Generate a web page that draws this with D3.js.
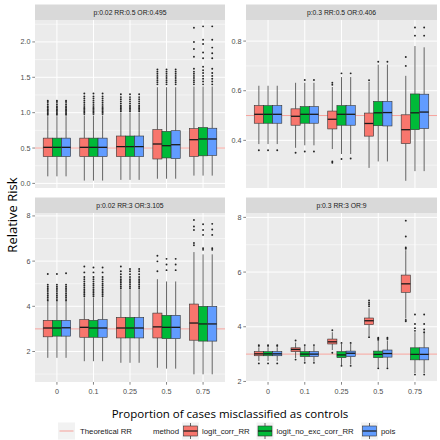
<!DOCTYPE html>
<html><head><meta charset="utf-8">
<script src="https://cdn.jsdelivr.net/npm/d3@7"></script>
<style>body{margin:0;background:#fff}svg{display:block}</style>
</head><body><svg id="c" width="440" height="440"></svg>
<script>
// ---------- data ----------
const categories = ["0", "0.1", "0.25", "0.5", "0.75"];
const methods = ["logit_corr_RR", "logit_no_exc_corr_RR", "pois"];
const panelTitles = ["p:0.02 RR:0.5 OR:0.495", "p:0.3 RR:0.5 OR:0.406", "p:0.02 RR:3 OR:3.105", "p:0.3 RR:3 OR:9"];
const theoreticalRR = [0.5, 0.5, 3, 3];
const xTitle = "Proportion of cases misclassified as controls";
const yTitle = "Relative Risk";
const lineLegendLabel = "Theoretical RR";
const methodLegendTitle = "method";

const p1Ticks = [0, 0.5, 1, 1.5, 2];
const p1TickLabels = ["0.0", "0.5", "1.0", "1.5", "2.0"];
const p2Ticks = [0.4, 0.6, 0.8];
const p2TickLabels = ["0.4", "0.6", "0.8"];
const p3Ticks = [2, 4, 6, 8];
const p3TickLabels = ["2", "4", "6", "8"];
const p4Ticks = [2, 4, 6, 8];
const p4TickLabels = ["2", "4", "6", "8"];

// box stats per category: [lower whisker, q1, median, q3, upper whisker]
const p1_logit_corr_RR = [[0.10,0.38,0.51,0.64,0.95],[0.04,0.38,0.51,0.64,0.96],[0.05,0.38,0.52,0.67,1.00],[0.066,0.345,0.557,0.76,1.36],[0.11,0.382,0.618,0.774,1.37]];
const p1_logit_no_exc_corr_RR = [[0.10,0.38,0.51,0.64,0.95],[0.04,0.38,0.51,0.64,0.96],[0.05,0.38,0.52,0.67,1.00],[0.066,0.36,0.533,0.735,1.36],[0.11,0.39,0.628,0.79,1.37]];
const p1_pois = [[0.10,0.38,0.51,0.64,0.95],[0.04,0.38,0.51,0.64,0.96],[0.05,0.38,0.52,0.67,1.00],[0.066,0.35,0.547,0.745,1.36],[0.11,0.396,0.628,0.78,1.37]];
const p1_logit_corr_RR_out = [[0.97,0.99,1.01,1.03,1.05,1.07,1.09,1.12,1.15,1.17],[0.98,1.0,1.02,1.04,1.06,1.08,1.11,1.14,1.17,1.2,1.23,1.27],[1.02,1.04,1.06,1.08,1.1,1.13,1.16,1.19,1.22,1.26],[1.40,1.43,1.46,1.49,1.52,1.55,1.58,1.61],[1.40,1.43,1.46,1.49,1.52,1.55,1.58,1.62,1.79,1.9,2.0,2.2]];
const p1_logit_no_exc_corr_RR_out = [[0.97,0.99,1.01,1.03,1.05,1.07,1.09,1.12,1.15,1.17],[0.98,1.0,1.02,1.04,1.06,1.08,1.11,1.14,1.17,1.2,1.23,1.27],[1.02,1.04,1.06,1.08,1.1,1.13,1.16,1.19,1.22,1.26],[1.40,1.43,1.46,1.49,1.52,1.55,1.58,1.61],[1.40,1.44,1.48,1.52,1.56,1.60,1.65,1.77,1.85,1.97,2.03,2.22]];
const p1_pois_out = [[0.97,0.99,1.01,1.03,1.05,1.07,1.09,1.12,1.15,1.17],[0.98,1.0,1.02,1.04,1.06,1.08,1.11,1.14,1.17,1.2,1.23,1.27],[1.02,1.04,1.06,1.08,1.1,1.13,1.16,1.19,1.22,1.26],[1.40,1.43,1.46,1.49,1.52,1.55,1.58,1.61],[1.40,1.44,1.48,1.52,1.56,1.62,1.77,1.84,1.92,2.03,2.22]];

const p2_logit_corr_RR = [[0.385,0.469,0.505,0.54,0.62],[0.37,0.461,0.497,0.527,0.632],[0.365,0.446,0.485,0.518,0.615],[0.289,0.417,0.468,0.51,0.635],[0.237,0.387,0.443,0.503,0.66]];
const p2_logit_no_exc_corr_RR = [[0.385,0.469,0.505,0.54,0.62],[0.38,0.469,0.505,0.536,0.632],[0.345,0.461,0.505,0.54,0.655],[0.315,0.459,0.511,0.557,0.705],[0.276,0.443,0.511,0.587,0.78]];
const p2_pois = [[0.385,0.469,0.505,0.54,0.62],[0.38,0.469,0.505,0.536,0.632],[0.345,0.461,0.505,0.54,0.655],[0.315,0.458,0.512,0.557,0.705],[0.276,0.448,0.514,0.586,0.775]];
const p2_logit_corr_RR_out = [[0.36],[0.35],[0.624,0.632,0.315,0.31],[0.642],[0.70,0.736]];
const p2_logit_no_exc_corr_RR_out = [[0.36],[0.643,0.355],[0.67,0.325],[0.717],[0.822,0.855]];
const p2_pois_out = [[0.36],[0.643,0.355],[0.67,0.327],[0.717],[0.822,0.855]];

const p3_logit_corr_RR = [[1.72,2.65,3.04,3.38,4.2],[1.57,2.63,3.07,3.41,4.4],[1.5,2.6,3.04,3.51,4.75],[1.28,2.6,3.09,3.7,5.2],[0.99,2.5,3.26,4.1,6.4]];
const p3_logit_no_exc_corr_RR = [[1.72,2.68,3.04,3.38,4.2],[1.57,2.63,3.04,3.38,4.4],[1.5,2.6,3.04,3.51,4.75],[1.24,2.57,3.07,3.6,5.1],[0.99,2.46,3.22,4.0,6.3]];
const p3_pois = [[1.72,2.68,3.05,3.38,4.2],[1.57,2.63,3.04,3.41,4.4],[1.5,2.6,3.04,3.51,4.75],[1.24,2.57,3.07,3.6,5.1],[0.99,2.46,3.22,4.0,6.3]];
const p3_logit_corr_RR_out = [[4.25,4.32,4.4,4.48,4.56,4.64,4.72,4.8,4.88,4.96,5.43],[4.45,4.52,4.6,4.68,4.76,4.84,4.92,5.0,5.1,5.2,5.3,5.5,5.76],[4.8,4.88,4.96,5.04,5.12,5.2,5.3,5.42,5.55,5.76],[5.55,5.99,6.24],[6.7,6.8,7.38,7.53,7.82]];
const p3_logit_no_exc_corr_RR_out = [[4.25,4.32,4.4,4.48,4.56,4.64,4.72,4.8,4.88,4.96,5.43],[4.45,4.52,4.6,4.68,4.76,4.84,4.92,5.0,5.1,5.2,5.3,5.5,5.72],[4.8,4.88,4.96,5.04,5.12,5.2,5.3,5.42,5.55,5.65],[5.6,5.85,6.1],[6.5,6.57,7.16,7.38,7.63]];
const p3_pois_out = [[4.25,4.32,4.4,4.48,4.56,4.64,4.72,4.8,4.88,4.96,5.46],[4.45,4.52,4.6,4.68,4.76,4.84,4.92,5.0,5.1,5.2,5.3,5.5,5.72],[4.8,4.88,4.96,5.04,5.12,5.2,5.3,5.42,5.55,5.65],[5.6,5.85,6.1],[6.5,6.57,7.16,7.4,7.65]];

const p4_logit_corr_RR = [[2.75,2.94,3.01,3.09,3.25],[2.85,3.09,3.17,3.23,3.42],[3.15,3.37,3.45,3.55,3.8],[3.65,4.08,4.22,4.32,4.68],[4.3,5.26,5.57,5.89,6.8]];
const p4_logit_no_exc_corr_RR = [[2.75,2.94,3.01,3.09,3.25],[2.72,2.91,3.0,3.09,3.3],[2.6,2.87,2.97,3.09,3.38],[2.5,2.87,2.99,3.11,3.48],[2.3,2.79,2.99,3.23,3.8]];
const p4_pois = [[2.75,2.94,3.01,3.09,3.25],[2.72,2.91,3.0,3.09,3.3],[2.62,2.91,3.03,3.11,3.38],[2.5,2.89,3.02,3.15,3.5],[2.3,2.79,2.99,3.23,3.8]];
const p4_logit_corr_RR_out = [[3.3,3.33,2.66],[3.5,2.8],[3.87,3.05],[4.75,4.82,4.88,4.96,3.62],[6.85,6.9,7.3,7.88,4.25,4.2]];
const p4_logit_no_exc_corr_RR_out = [[3.3,3.33,2.66],[3.33,2.68],[3.41,2.57],[3.52,3.56,3.6,2.48],[3.85,3.95,4.1,4.45,2.25]];
const p4_pois_out = [[3.3,3.33,2.66],[3.33,2.68],[3.41,2.57],[3.55,3.6,2.48],[3.8,3.9,4.1,4.45,2.25]];

// ---------- styling / layout ----------
const methodColors = ["#F8766D", "#00BA38", "#619CFF"];
const smallFont = "'Liberation Sans', Arial, sans-serif";
const titleFont = "'Open Sans', 'Noto Sans', sans-serif";
const colX = [[35, 225], [246, 437]];
const rowY = [[20, 188], [213, 382]];
const stripH = 15.5;

const panels = [
  {title: panelTitles[0], rr: theoreticalRR[0], stats: [p1_logit_corr_RR, p1_logit_no_exc_corr_RR, p1_pois], outs: [p1_logit_corr_RR_out, p1_logit_no_exc_corr_RR_out, p1_pois_out], ticks: p1Ticks, labels: p1TickLabels, domain: [-0.065, 2.31], col: 0, row: 0},
  {title: panelTitles[1], rr: theoreticalRR[1], stats: [p2_logit_corr_RR, p2_logit_no_exc_corr_RR, p2_pois], outs: [p2_logit_corr_RR_out, p2_logit_no_exc_corr_RR_out, p2_pois_out], ticks: p2Ticks, labels: p2TickLabels, domain: [0.208, 0.885], col: 1, row: 0},
  {title: panelTitles[2], rr: theoreticalRR[2], stats: [p3_logit_corr_RR, p3_logit_no_exc_corr_RR, p3_pois], outs: [p3_logit_corr_RR_out, p3_logit_no_exc_corr_RR_out, p3_pois_out], ticks: p3Ticks, labels: p3TickLabels, domain: [0.65, 8.13], col: 0, row: 1},
  {title: panelTitles[3], rr: theoreticalRR[3], stats: [p4_logit_corr_RR, p4_logit_no_exc_corr_RR, p4_pois], outs: [p4_logit_corr_RR_out, p4_logit_no_exc_corr_RR_out, p4_pois_out], ticks: p4Ticks, labels: p4TickLabels, domain: [1.98, 8.16], col: 1, row: 1}
];

const svg = d3.select("#c");
svg.append("rect").attr("width", 440).attr("height", 440).attr("fill", "#fff");

panels.forEach(p => {
  const [x0, x1] = colX[p.col];
  const [y0, y1] = rowY[p.row];
  const g = svg.append("g");
  const x = d3.scalePoint().domain(categories).range([x0, x1]).padding(0.6);
  const y = d3.scaleLinear().domain(p.domain).range([y1, y0]);
  const step = x.step();
  const bw = step * 0.25;

  // strip
  g.append("rect").attr("x", x0).attr("y", y0 - stripH).attr("width", x1 - x0).attr("height", stripH).attr("fill", "#D9D9D9");
  g.append("text").attr("x", (x0 + x1) / 2).attr("y", y0 - stripH / 2).attr("dy", "0.35em")
    .attr("text-anchor", "middle").attr("font-family", smallFont).attr("font-size", 6.8).attr("fill", "#1A1A1A").text(p.title);

  // panel bg
  g.append("rect").attr("x", x0).attr("y", y0).attr("width", x1 - x0).attr("height", y1 - y0).attr("fill", "#EBEBEB");

  // minor grid
  const half = (p.ticks[1] - p.ticks[0]) / 2;
  const minors = [p.ticks[0] - half].concat(p.ticks.map(t => t + half)).filter(v => v > p.domain[0] && v < p.domain[1]);
  g.selectAll(".mn").data(minors).enter().append("line")
    .attr("x1", x0).attr("x2", x1).attr("y1", d => y(d)).attr("y2", d => y(d))
    .attr("stroke", "#fff").attr("stroke-width", 0.5);
  g.selectAll(".mj").data(p.ticks).enter().append("line")
    .attr("x1", x0).attr("x2", x1).attr("y1", d => y(d)).attr("y2", d => y(d))
    .attr("stroke", "#fff").attr("stroke-width", 1);
  g.selectAll(".vx").data(categories).enter().append("line")
    .attr("x1", d => x(d)).attr("x2", d => x(d)).attr("y1", y0).attr("y2", y1)
    .attr("stroke", "#fff").attr("stroke-width", 1);

  // theoretical RR line
  g.append("line").attr("x1", x0).attr("x2", x1).attr("y1", y(p.rr)).attr("y2", y(p.rr))
    .attr("stroke", "#F8766D").attr("stroke-opacity", 0.65).attr("stroke-width", 1);

  // boxplots
  methods.forEach((m, j) => {
    categories.forEach((c, i) => {
      const s = p.stats[j][i];
      const cx = x(c) + (j - 1) * bw;
      const bg = g.append("g");
      bg.append("line").attr("x1", cx).attr("x2", cx).attr("y1", y(s[0])).attr("y2", y(s[1]))
        .attr("stroke", "#555").attr("stroke-width", 0.9);
      bg.append("line").attr("x1", cx).attr("x2", cx).attr("y1", y(s[3])).attr("y2", y(s[4]))
        .attr("stroke", "#555").attr("stroke-width", 0.9);
      bg.selectAll("circle").data(p.outs[j][i]).enter().append("circle")
        .attr("cx", cx).attr("cy", d => y(d)).attr("r", 0.95).attr("fill", "#222");
      bg.append("rect").attr("x", cx - bw / 2).attr("width", bw)
        .attr("y", y(s[3])).attr("height", y(s[1]) - y(s[3]))
        .attr("fill", methodColors[j]).attr("stroke", "#333").attr("stroke-width", 0.6);
      bg.append("line").attr("x1", cx - bw / 2).attr("x2", cx + bw / 2).attr("y1", y(s[2])).attr("y2", y(s[2]))
        .attr("stroke", "#1a1a1a").attr("stroke-width", 1.3);
    });
  });

  // y axis
  const ya = g.append("g");
  p.ticks.forEach((t, k) => {
    ya.append("line").attr("x1", x0 - 2.7).attr("x2", x0).attr("y1", y(t)).attr("y2", y(t)).attr("stroke", "#333").attr("stroke-width", 0.6);
    ya.append("text").attr("x", x0 - 4.5).attr("y", y(t)).attr("dy", "0.35em").attr("text-anchor", "end")
      .attr("font-family", smallFont).attr("font-size", 7.2).attr("fill", "#4D4D4D").text(p.labels[k]);
  });
  // x axis on bottom row
  if (p.row === 1) {
    categories.forEach(c => {
      g.append("line").attr("x1", x(c)).attr("x2", x(c)).attr("y1", y1).attr("y2", y1 + 2.7).attr("stroke", "#333").attr("stroke-width", 0.6);
      g.append("text").attr("x", x(c)).attr("y", y1 + 9.5).attr("dy", "0.35em").attr("text-anchor", "middle")
        .attr("font-family", smallFont).attr("font-size", 7.2).attr("fill", "#4D4D4D").text(c);
    });
  }
});

// axis titles
svg.append("text").attr("x", 230).attr("y", 414).attr("dy", "0.35em").attr("text-anchor", "middle")
  .attr("font-family", titleFont).attr("font-size", 11.5).attr("fill", "#000").text(xTitle);
svg.append("text").attr("transform", "translate(12,215) rotate(-90)").attr("dy", "0.35em").attr("text-anchor", "middle")
  .attr("font-family", titleFont).attr("font-size", 13).attr("fill", "#000").text(yTitle);

// legend
const ly = 431;
const lg = svg.append("g");
lg.append("rect").attr("x", 58).attr("y", ly - 8.5).attr("width", 17).attr("height", 17).attr("fill", "#F2F2F2");
lg.append("line").attr("x1", 59.5).attr("x2", 73.5).attr("y1", ly).attr("y2", ly).attr("stroke", "#F8766D").attr("stroke-opacity", 0.65).attr("stroke-width", 1);
lg.append("text").attr("x", 80).attr("y", ly).attr("dy", "0.35em").attr("font-family", smallFont).attr("font-size", 7.8).attr("fill", "#1A1A1A").text(lineLegendLabel);
lg.append("text").attr("x", 153).attr("y", ly).attr("dy", "0.35em").attr("font-family", smallFont).attr("font-size", 7.8).attr("fill", "#1A1A1A").text(methodLegendTitle);
const keyX = [182, 256.5, 361];
methods.forEach((m, j) => {
  const kx = keyX[j];
  lg.append("rect").attr("x", kx).attr("y", ly - 8.5).attr("width", 17).attr("height", 17).attr("fill", "#F2F2F2");
  lg.append("line").attr("x1", kx + 8.5).attr("x2", kx + 8.5).attr("y1", ly - 8).attr("y2", ly + 8).attr("stroke", "#555").attr("stroke-width", 0.9);
  lg.append("rect").attr("x", kx + 1.5).attr("y", ly - 5).attr("width", 14).attr("height", 10)
    .attr("fill", methodColors[j]).attr("stroke", "#333").attr("stroke-width", 0.6);
  lg.append("line").attr("x1", kx + 1.5).attr("x2", kx + 15.5).attr("y1", ly).attr("y2", ly).attr("stroke", "#1a1a1a").attr("stroke-width", 1.2);
  lg.append("text").attr("x", kx + 20).attr("y", ly).attr("dy", "0.35em").attr("font-family", smallFont).attr("font-size", 7.8).attr("fill", "#1A1A1A").text(m);
});
</script>
</body></html>
